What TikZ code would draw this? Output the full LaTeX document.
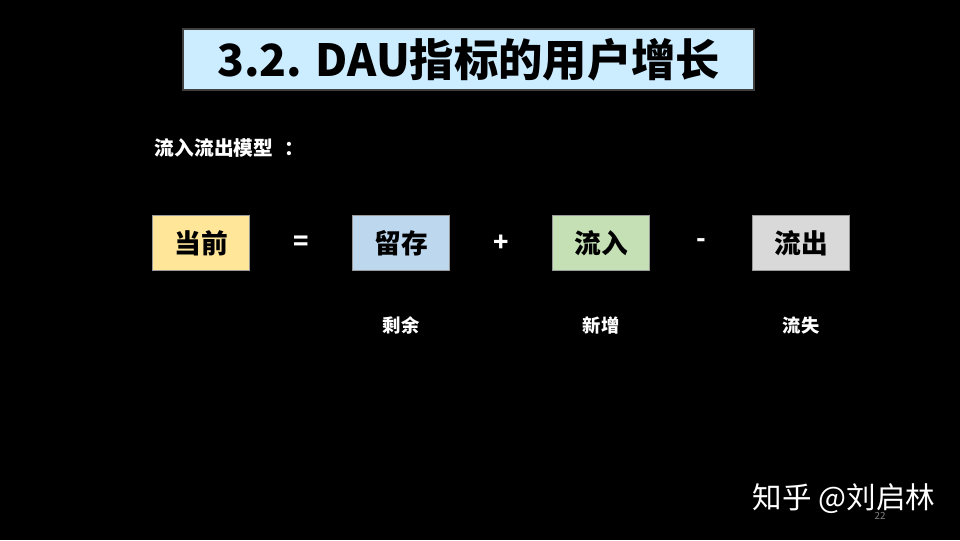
\documentclass[tikz,border=0pt]{standalone}
\usepackage{fontspec}
\setmainfont{Noto Sans CJK SC}
\usetikzlibrary{positioning}

\definecolor{titlefill}{HTML}{CCECFF}
\definecolor{nowfill}{HTML}{FFE699}
\definecolor{keepfill}{HTML}{BDD7EE}
\definecolor{infill}{HTML}{C5E0B4}
\definecolor{outfill}{HTML}{D9D9D9}

\begin{document}
\begin{tikzpicture}[x=0.025cm, y=-0.025cm, node distance=5cm]

    \tikzstyle{heading} = [rectangle, minimum width=14.275cm, minimum height=1.525cm, text centered, draw=black!75, line width=1pt, fill=titlefill, font=\fontsize{31.5}{31.5}\selectfont\bfseries]
    \tikzstyle{term} = [rectangle, minimum width=2.425cm, minimum height=1.375cm, text centered, draw=black!40, font=\fontsize{19}{19}\selectfont\bfseries]
    \tikzstyle{op} = [text=white, font=\fontsize{18}{18}\selectfont\bfseries]
    \tikzstyle{note} = [text=white, font=\fontsize{13}{13}\selectfont\bfseries]

    % Background
    \fill[black] (0,0) rectangle (960,540);

    % Nodes
    \node (title) [heading] at (468.5,59.5) {3.2. DAU指标的用户增长};
    \node (model) [note, anchor=west, font=\fontsize{14}{14}\selectfont\bfseries] at (150,148) {流入流出模型\hspace{0.6em}：};

    \node (now) [term, fill=nowfill] at (201,243) {当前};
    \node (keep) [term, fill=keepfill, right of=now] {留存};
    \node (gain) [term, fill=infill, right of=keep] {流入};
    \node (loss) [term, fill=outfill, right of=gain] {流出};

    \node (eq) [op, right of=now, node distance=2.5cm] {=};
    \node (plus) [op, right of=keep, node distance=2.5cm] {+};
    \node (minus) [op, right of=gain, node distance=2.5cm] {-};

    \node (rest) [note, below of=keep, node distance=2.05cm] {剩余};
    \node (new) [note, below of=gain, node distance=2.05cm] {新增};
    \node (lost) [note, below of=loss, node distance=2.05cm] {流失};

    % Watermark
    \node (mark) [text=white, anchor=west, font=\fontsize{21}{21}\selectfont] at (748,499) {知乎 @刘启林};
    \node (page) [text=gray, font=\fontsize{7}{7}\selectfont] at (880,516) {22};
\end{tikzpicture}
\end{document}
